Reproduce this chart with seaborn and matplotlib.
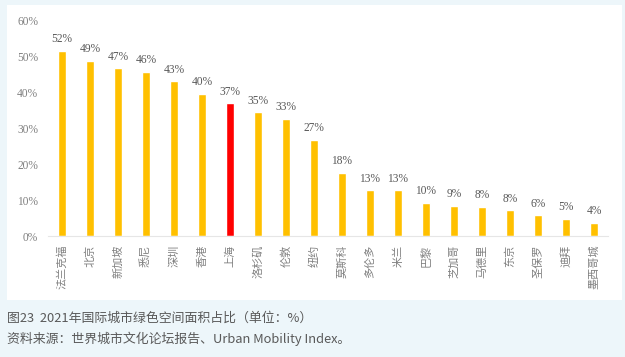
import matplotlib
matplotlib.use("Agg")
import matplotlib.pyplot as plt
import seaborn as sns
from matplotlib.patches import Rectangle

# 数据
cities = ["法兰克福", "北京", "新加坡", "悉尼", "深圳", "香港", "上海", "洛杉矶", "伦敦", "纽约",
          "莫斯科", "多伦多", "米兰", "巴黎", "芝加哥", "马德里", "东京", "圣保罗", "迪拜", "墨西哥城"]
values = [51.7, 48.8, 46.7, 45.8, 43.1, 39.6, 37.0, 34.5, 32.7, 26.8,
          17.7, 12.8, 12.8, 9.4, 8.5, 8.2, 7.3, 5.8, 4.8, 3.8]
labels = ["52%", "49%", "47%", "46%", "43%", "40%", "37%", "35%", "33%", "27%",
          "18%", "13%", "13%", "10%", "9%", "8%", "8%", "6%", "5%", "4%"]
highlight = "上海"

sns.set_style("white")
plt.rcParams["font.family"] = ["Noto Sans CJK SC", "DejaVu Sans"]

fig = plt.figure(figsize=(6.25, 3.57), dpi=100, facecolor="#edf6fa")
# 白色面板
fig.patches.append(Rectangle((7 / 625, 1 - 300 / 357), 615 / 625, 295 / 357,
                             transform=fig.transFigure, facecolor="white",
                             edgecolor="none", zorder=0))

ax = fig.add_axes([48 / 625, 1 - 236.3 / 357, 560 / 625, 215.6 / 357])
ax.set_zorder(2)
ax.set_facecolor("none")

palette = {c: ("#FF0000" if c == highlight else "#FFC000") for c in cities}
sns.barplot(x=cities, y=values, hue=cities, palette=palette, legend=False,
            width=0.32, ax=ax, saturation=1)

for cont, lab in zip(ax.containers, labels):
    ax.bar_label(cont, labels=[lab], padding=4, fontsize=8.3,
                 color="#595959", family="Liberation Serif")

ax.set_ylim(0, 60)
ax.set_xlim(-0.5, len(cities) - 0.5)
ax.set_yticks(range(0, 61, 10))
ax.set_yticklabels([f"{v}%" for v in range(0, 61, 10)],
                   family="Liberation Serif", fontsize=8.3, color="#808080")
ax.tick_params(axis="y", length=0, pad=7)
ax.tick_params(axis="x", length=0, pad=6)
ax.set_xticks(range(len(cities)))
ax.set_xticklabels(cities, rotation=90, fontsize=8, color="#808080")
for s in ["top", "right", "left"]:
    ax.spines[s].set_visible(False)
ax.spines["bottom"].set_color("#e6e6e6")
ax.set_xlabel("")
ax.set_ylabel("")

fig.text(7 / 625, 1 - 318 / 357, "图23  2021年国际城市绿色空间面积占比（单位：%）",
         fontsize=9.3, color="#595959", va="center", ha="left")
fig.text(7 / 625, 1 - 339 / 357, "资料来源：世界城市文化论坛报告、Urban Mobility Index。",
         fontsize=9.3, color="#595959", va="center", ha="left")

fig.savefig("out.png", dpi=100, facecolor=fig.get_facecolor())
